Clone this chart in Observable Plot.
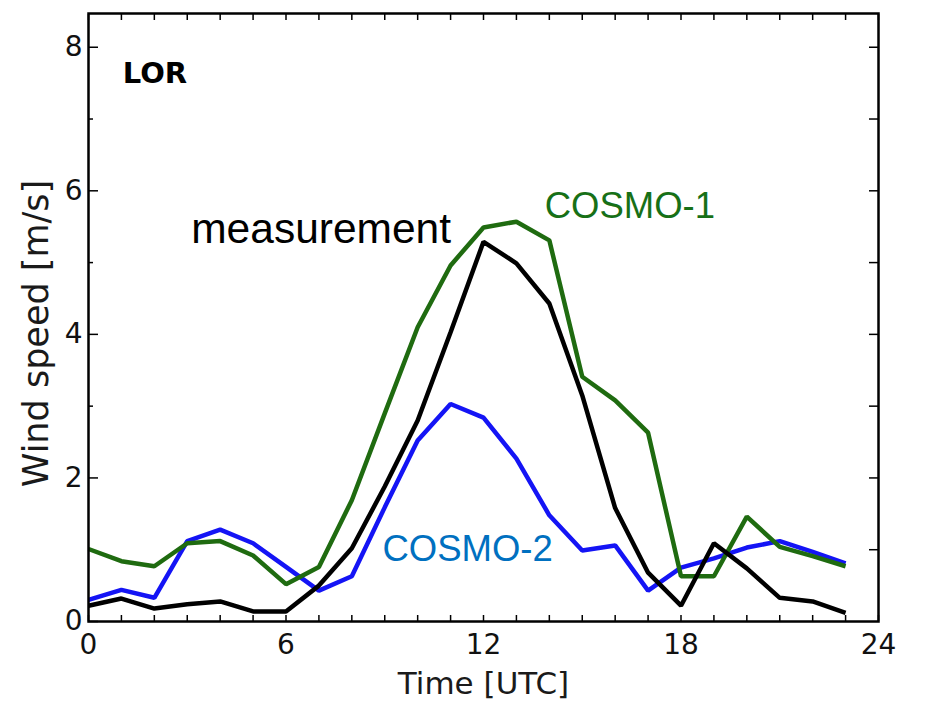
<!DOCTYPE html>
<html>
<head>
<meta charset="utf-8">
<script src="https://cdn.jsdelivr.net/npm/d3@7"></script>
<script src="https://cdn.jsdelivr.net/npm/@observablehq/plot@0.6"></script>
<style>
  html, body { margin: 0; padding: 0; background: #fff; }
  #chart svg { display: block; }
</style>
</head>
<body>
<div id="chart"></div>
<script>
// ---- data ----
const hours = [0,1,2,3,4,5,6,7,8,9,10,11,12,13,14,15,16,17,18,19,20,21,22,23];
const measurement = [0.22,0.32,0.18,0.24,0.28,0.14,0.14,0.50,1.02,1.88,2.80,4.03,5.29,4.99,4.43,3.15,1.58,0.68,0.22,1.09,0.74,0.33,0.28,0.12];
const cosmo1 = [1.01,0.84,0.77,1.09,1.12,0.92,0.52,0.76,1.69,2.90,4.10,4.96,5.49,5.57,5.31,3.41,3.08,2.63,0.63,0.63,1.46,1.04,0.91,0.77];
const cosmo2 = [0.30,0.44,0.33,1.12,1.28,1.09,0.76,0.43,0.63,1.59,2.52,3.03,2.84,2.27,1.48,0.99,1.06,0.43,0.75,0.88,1.03,1.12,0.97,0.81];

const xMajorTicks = [0,6,12,18,24];
const xMinorTicks = d3.range(0, 25);
const yMajorTicks = [0,2,4,6,8];
const yMinorTicks = [1,3,5,7];
const yRightTicks = [1,2,3,4,5,6,7,8];

const xLabel = "Time [UTC]";
const yLabel = "Wind speed [m/s]";

// annotation texts and their anchor positions (data units)
const annotations = [
  {text: "LOR", x: 1.04, y: 7.63, color: "#000000", size: 29, weight: "bold", font: "DejaVu Sans"},
  {text: "measurement", x: 3.12, y: 5.46, color: "#000000", size: 42.5, weight: "normal", font: "Liberation Sans"},
  {text: "COSMO-1", x: 13.86, y: 5.78, color: "#177017", size: 36.5, weight: "normal", font: "Liberation Sans"},
  {text: "COSMO-2", x: 8.93, y: 1.01, color: "#0070c0", size: 36.5, weight: "normal", font: "Liberation Sans"}
];

const series = [
  {name: "COSMO-2", values: cosmo2, color: "#1414f5"},
  {name: "COSMO-1", values: cosmo1, color: "#1f6b10"},
  {name: "measurement", values: measurement, color: "#000000"}
];

const rows = series.flatMap(s => hours.map((h, i) => ({series: s.name, hour: h, value: s.values[i]})));
const colorMap = Object.fromEntries(series.map(s => [s.name, s.color]));

const blank = () => "";

const chart = Plot.plot({
  width: 952,
  height: 704,
  marginLeft: 88,
  marginRight: 74,
  marginTop: 13,
  marginBottom: 83,
  style: {background: "#fff", fontFamily: "DejaVu Sans", color: "#000"},
  x: {domain: [0, 24]},
  y: {domain: [0, 8.47]},
  marks: [
    // minor/major tick marks, drawn inward
    Plot.axisX(xMinorTicks, {anchor: "bottom", tickSize: 6, insetBottom: 6, tickFormat: blank, label: null, strokeWidth: 1.5}),
    Plot.axisX(xMinorTicks, {anchor: "top", tickSize: 6, insetTop: 6, tickFormat: blank, label: null, strokeWidth: 1.5}),
    Plot.axisY(yMajorTicks, {anchor: "left", tickSize: 10, insetLeft: 10, tickFormat: blank, label: null, strokeWidth: 1.5}),
    Plot.axisY(yMinorTicks, {anchor: "left", tickSize: 5, insetLeft: 5, tickFormat: blank, label: null, strokeWidth: 1.5}),
    Plot.axisY(yRightTicks, {anchor: "right", tickSize: 10, insetRight: 10, tickFormat: blank, label: null, strokeWidth: 1.5}),
    // tick labels
    Plot.axisX(xMajorTicks, {anchor: "bottom", tickSize: 0, tickPadding: 13, fontSize: 28, label: null, fill: "#111", tickFormat: d => String(d)}),
    Plot.axisY(yMajorTicks, {anchor: "left", tickSize: 0, tickPadding: 6, fontSize: 28, label: null, fill: "#111", tickFormat: d => String(d)}),
    // axis titles
    Plot.text([xLabel], {frameAnchor: "bottom", dy: 63, text: d => d, fontSize: 31, fill: "#1a1a1a", textAnchor: "middle", lineAnchor: "middle"}),
    Plot.text([yLabel], {frameAnchor: "left", dx: -52, dy: 16, rotate: -90, text: d => d, fontSize: 35, fill: "#1a1a1a", textAnchor: "middle", lineAnchor: "middle"}),
    // data lines
    Plot.line(rows, {x: "hour", y: "value", z: "series", stroke: d => colorMap[d.series], strokeWidth: 4.5, strokeLinejoin: "miter", strokeLinecap: "butt"}),
    // annotations
    ...annotations.map(a => Plot.text([a], {
      x: "x", y: "y", text: "text", fill: a.color, fontSize: a.size, fontWeight: a.weight,
      fontFamily: a.font, textAnchor: "start", lineAnchor: "middle"
    })),
    Plot.frame({stroke: "#000", strokeWidth: 2.5})
  ]
});

document.getElementById("chart").appendChild(chart);
</script>
</body>
</html>
